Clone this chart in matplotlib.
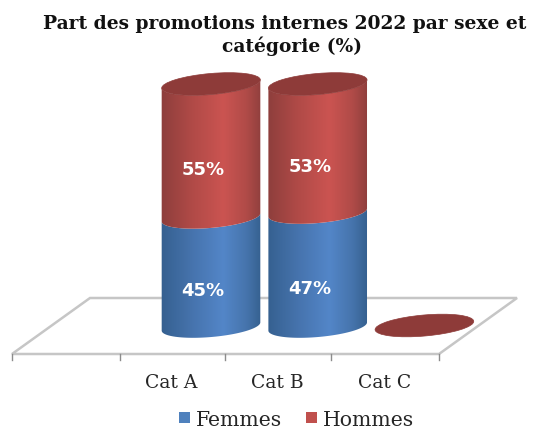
"""Part des promotions internes 2022, cylindres empiles facon 3D."""
import numpy as np
import matplotlib
matplotlib.use('Agg')
import matplotlib.pyplot as plt
from matplotlib.colors import LinearSegmentedColormap
from matplotlib.patches import Ellipse, Polygon, Rectangle

###############################################################################
# DATA :
categories = ['Cat A', 'Cat B', 'Cat C']
femmes = [45, 47, 0]
hommes = [55, 53, 0]
title_lines = ['Part des promotions internes 2022 par sexe et', 'catégorie (%)']

###############################################################################
# CONSTANTES (pixels de l'image) :
WIDTH, HEIGHT = 544, 432
X0, X_STEP = 211, 106.7      # centre de Cat A, pas entre categories
Y_BASE = 326.5               # centre de l'ellipse du bas
PX_PER_PCT = 2.425
RX, RY, TILT = 49.5, 10.5, 5.0

SERIF = 'DejaVu Serif'
RED = LinearSegmentedColormap.from_list(
    'r', [(0, '#8d3e3c'), (0.3, '#b04a47'), (0.62, '#cb5451'), (0.85, '#b04b48'), (1, '#8f3f3d')])
BLUE = LinearSegmentedColormap.from_list(
    'b', [(0, '#35608f'), (0.3, '#4673ad'), (0.62, '#5386c8'), (0.85, '#4674ac'), (1, '#35608f')])
RED_TOP = '#8e3b39'


###############################################################################
# FONCTIONS :
def y_of(pct):
    return Y_BASE - pct * PX_PER_PCT


def lower_arc(xc, yc):
    """Moitie avant de l'ellipse inclinee, de gauche a droite."""
    t = np.linspace(np.pi, 0, 60)
    c, s = np.cos(np.radians(TILT)), np.sin(np.radians(TILT))
    ex, ey = RX * np.cos(t), RY * np.sin(t)
    return np.column_stack([xc + ex * c + ey * s, yc - ex * s + ey * c])


def segment(ax, xc, y_low, y_high, cmap):
    """Tronçon de cylindre avec degrade horizontal."""
    pts = np.vstack([lower_arc(xc, y_low), lower_arc(xc, y_high)[::-1]])
    poly = Polygon(pts, closed=True, facecolor='none', edgecolor='none')
    ax.add_patch(poly)
    im = ax.imshow(np.linspace(0, 1, 128).reshape(1, -1), cmap=cmap, aspect='auto',
                   extent=[xc - RX - 1, xc + RX + 1, y_low + 20, y_high - 20], zorder=3)
    im.set_clip_path(poly)


def top_cap(ax, xc, yc):
    ax.add_patch(Ellipse((xc, yc), 2 * RX, 2 * RY, angle=-TILT, facecolor=RED_TOP,
                         edgecolor=RED_TOP, linewidth=0.5, zorder=4))


###############################################################################
# FIGURE :
fig = plt.figure(figsize=(WIDTH / 100, HEIGHT / 100), dpi=100)
ax = fig.add_axes([0, 0, 1, 1])
ax.axis('off')

# Plancher
floor = Polygon([(12, 354), (90, 298), (517, 298), (439, 354)], closed=True,
                facecolor='white', edgecolor='#c6c6c6', linewidth=1.8, zorder=1)
ax.add_patch(floor)
for tick_x in [12, 120, 225, 331, 439]:
    ax.plot([tick_x, tick_x], [354, 360], color='#8c8c8c', linewidth=1.0, zorder=1)

# Cylindres
for i, cat in enumerate(categories):
    xc = X0 + i * X_STEP
    total = femmes[i] + hommes[i]
    if total == 0:
        top_cap(ax, xc, Y_BASE - 1)
    else:
        segment(ax, xc, y_of(0), y_of(femmes[i]), BLUE)
        segment(ax, xc, y_of(femmes[i]), y_of(total), RED)
        top_cap(ax, xc, y_of(total))
        ax.text(xc - 8, y_of(femmes[i] / 2) + 19, f'{femmes[i]}%', color='white', fontsize=13,
                fontweight='bold', ha='center', va='center', zorder=5)
        ax.text(xc - 8, y_of(femmes[i] + hommes[i] / 2) + 19, f'{hommes[i]}%', color='white',
                fontsize=13, fontweight='bold', ha='center', va='center', zorder=5)
    ax.text(xc - 40, 383, cat, family=SERIF, fontsize=13.5, color='#262626',
            ha='center', va='center')

# Titre
ax.text(285, 24, title_lines[0], family=SERIF, fontweight='bold', fontsize=13.4,
        color='#111111', ha='center', va='center')
ax.text(292, 46, title_lines[1], family=SERIF, fontweight='bold', fontsize=13.4,
        color='#111111', ha='center', va='center')

# Legende
ax.add_patch(Rectangle((179, 412), 11, 11, facecolor='#4f81bd', edgecolor='none'))
ax.text(196, 421, 'Femmes', family=SERIF, fontsize=14.7, color='#262626', va='center')
ax.add_patch(Rectangle((306, 412), 11, 11, facecolor='#c0504d', edgecolor='none'))
ax.text(323, 421, 'Hommes', family=SERIF, fontsize=14.7, color='#262626', va='center')

ax.set_xlim(0, WIDTH)
ax.set_ylim(HEIGHT, 0)
fig.savefig('out.png', dpi=100)
